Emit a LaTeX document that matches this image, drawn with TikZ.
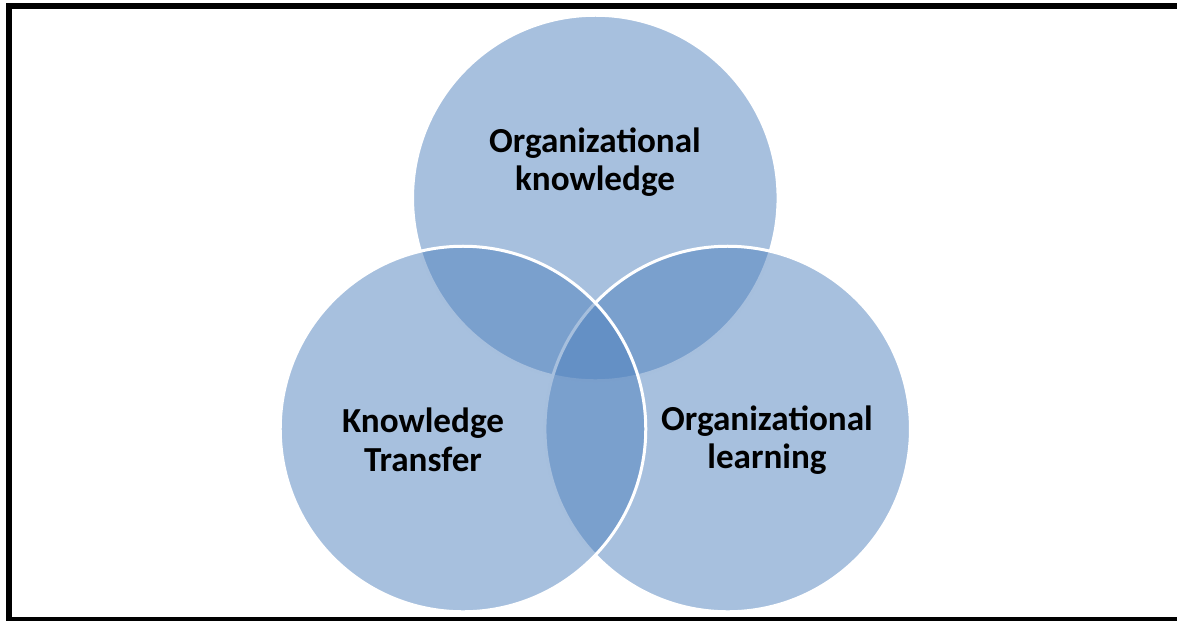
\documentclass[tikz,border=0pt]{standalone}
\usepackage{fontspec}
\setmainfont{Carlito}
\definecolor{vennblue}{HTML}{4F81BD}
\tikzset{
  venn/.style={circle, fill=vennblue, fill opacity=0.5, draw=white, line width=0.06cm, inner sep=0pt, outer sep=0pt, minimum size=7.312cm},
  vennlabel/.style={align=center, font=\fontsize{20}{22}\selectfont\bfseries, text=black}
}
\begin{document}
\begin{tikzpicture}[x=0.02cm, y=-0.02cm]
	\useasboundingbox (0,0) rectangle (1177,620);
	% Rahmen
	\draw [line width=0.12cm] (9,6.3) rectangle (1200,619.7);
	% Kreise
	\node [venn] (orgknow) at (595.3,198) {};
	\node [venn] (orglearn) at (727.7,429) {};
	\node [venn] (transfer) at (463,429) {};
	% Beschriftung
	\node [vennlabel] (orgknowtext) at (595,162) {Organizational\\knowledge};
	\node [vennlabel] (transfertext) at (423,440) {Knowledge\\Transfer};
	\node [vennlabel] (orglearntext) at (767,440) {Organizational\\learning};
\end{tikzpicture}
\end{document}
